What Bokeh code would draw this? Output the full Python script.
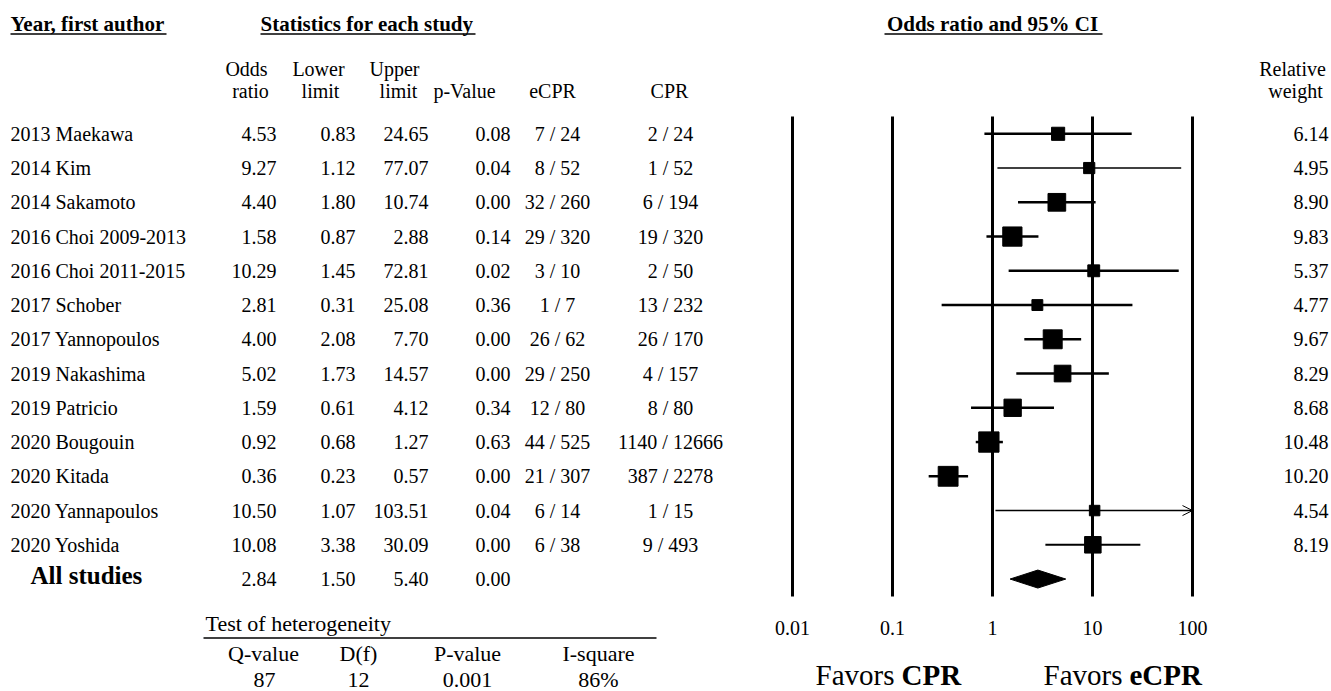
from bokeh.plotting import figure
from bokeh.models import Range1d, LogScale, ColumnDataSource, Arrow, OpenHead
from bokeh.core.properties import value
from bokeh.embed import file_html
from bokeh.resources import INLINE

# ---------------- data ----------------
studies = ["2013 Maekawa", "2014 Kim", "2014 Sakamoto", "2016 Choi 2009-2013",
           "2016 Choi 2011-2015", "2017 Schober", "2017 Yannopoulos", "2019 Nakashima",
           "2019 Patricio", "2020 Bougouin", "2020 Kitada", "2020 Yannapoulos", "2020 Yoshida"]
odds = [4.53, 9.27, 4.40, 1.58, 10.29, 2.81, 4.00, 5.02, 1.59, 0.92, 0.36, 10.50, 10.08]
lower = [0.83, 1.12, 1.80, 0.87, 1.45, 0.31, 2.08, 1.73, 0.61, 0.68, 0.23, 1.07, 3.38]
upper = [24.65, 77.07, 10.74, 2.88, 72.81, 25.08, 7.70, 14.57, 4.12, 1.27, 0.57, 103.51, 30.09]
pvalues = ["0.08", "0.04", "0.00", "0.14", "0.02", "0.36", "0.00", "0.00", "0.34", "0.63",
           "0.00", "0.04", "0.00"]
ecpr = ["7 / 24", "8 / 52", "32 / 260", "29 / 320", "3 / 10", "1 / 7", "26 / 62", "29 / 250",
        "12 / 80", "44 / 525", "21 / 307", "6 / 14", "6 / 38"]
cpr = ["2 / 24", "1 / 52", "6 / 194", "19 / 320", "2 / 50", "13 / 232", "26 / 170", "4 / 157",
       "8 / 80", "1140 / 12666", "387 / 2278", "1 / 15", "9 / 493"]
weights = [6.14, 4.95, 8.90, 9.83, 5.37, 4.77, 9.67, 8.29, 8.68, 10.48, 10.20, 4.54, 8.19]

summary_label = "All studies"
summary_or, summary_lower, summary_upper, summary_p = 2.84, 1.50, 5.40, "0.00"

het_title = "Test of heterogeneity"
het_headers = ["Q-value", "D(f)", "P-value", "I-square"]
het_values = ["87", "12", "0.001", "86%"]

ticks = [0.01, 0.1, 1, 10, 100]
tick_labels = ["0.01", "0.1", "1", "10", "100"]

# ---------------- styles / layout ----------------
FONT = "Liberation Serif"
W, H = 1331, 691
ci_widths = [2.5, 1.5, 2.5, 2.5, 2.5, 2.5, 2.5, 2.5, 2.5, 2.5, 2.5, 1.5, 2.0]

X_ONE = 992.0     # screen x of OR = 1
DECADE = 100.0    # px per decade

p = figure(width=W, height=H, x_range=Range1d(0, W), y_range=Range1d(H, 0),
           output_backend="svg", toolbar_location=None, min_border=0,
           x_axis_type=None, y_axis_type=None)
p.grid.visible = False
p.outline_line_color = None
p.background_fill_color = "white"
p.border_fill_color = "white"

p.extra_x_ranges = {"or": Range1d(10 ** ((0 - X_ONE) / DECADE), 10 ** ((W - X_ONE) / DECADE))}
p.extra_x_scales = {"or": LogScale()}
axis_max = ticks[-1]

n = len(studies)
row_y = [133.3 + 34.25 * i for i in range(n)]
sum_y = 133.3 + 34.25 * n


def txt(x, y, t, size="20px", align="left", bold=False, baseline="middle", rng="default"):
    if not isinstance(x, list):
        x, y, t = [x], [y], [t]
    p.text(x=x, y=y, text=t, text_font=value(FONT), text_font_size=size,
           text_align=align, text_baseline=baseline,
           text_font_style="bold" if bold else "normal", text_color="black",
           x_range_name=rng)


# titles
txt(10, 23, "Year, first author", size="21px", bold=True)
txt(260, 23, "Statistics for each study", size="21px", bold=True)
txt(1.0, 23, "Odds ratio and 95% CI", size="21px", bold=True, align="center", rng="or")
p.segment(x0=[10, 260, 884], x1=[166, 475, 1102], y0=[33.5] * 3, y1=[33.5] * 3,
          line_color="black", line_width=1.5)

# column headers
txt([246, 318, 394], [68, 68, 68], ["Odds", "Lower", "Upper"], align="center")
txt([250, 320, 398, 464, 552, 669], [90] * 6,
    ["ratio", "limit", "limit", "p-Value", "eCPR", "CPR"], align="center")
txt([1292, 1295], [68, 90], ["Relative", "weight"], align="center")

# table rows
fmt = lambda v: "%.2f" % v
txt([10] * n, row_y, studies)
txt([276] * n, row_y, [fmt(v) for v in odds], align="right")
txt([355] * n, row_y, [fmt(v) for v in lower], align="right")
txt([428] * n, row_y, [fmt(v) for v in upper], align="right")
txt([510] * n, row_y, pvalues, align="right")
txt([557] * n, row_y, ecpr, align="center")
txt([670] * n, row_y, cpr, align="center")
txt([1328] * n, row_y, [fmt(v) for v in weights], align="right")

# summary row
txt(30, sum_y - 4, summary_label, size="25px", bold=True)
txt([276, 355, 428, 510], [sum_y] * 4,
    [fmt(summary_or), fmt(summary_lower), fmt(summary_upper), summary_p], align="right")

# heterogeneity
txt(205, 623, het_title, size="22px")
p.segment(x0=[203], x1=[656], y0=[637.5], y1=[637.5], line_color="black", line_width=1.5)
txt([263, 358, 467, 598], [653] * 4, het_headers, size="22px", align="center")
txt([264, 358, 467, 598], [679] * 4, het_values, size="22px", align="center")

# ---------------- forest plot ----------------
p.segment(x0=ticks, x1=ticks, y0=[116] * len(ticks), y1=[596] * len(ticks),
          line_color="black", line_width=3, x_range_name="or")
txt(ticks, [627] * len(ticks), tick_labels, align="center", rng="or")

inside = [i for i in range(n) if upper[i] <= axis_max]
outside = [i for i in range(n) if upper[i] > axis_max]
ci_src = ColumnDataSource(dict(
    x0=[lower[i] for i in inside], x1=[upper[i] for i in inside],
    y=[row_y[i] for i in inside], w=[ci_widths[i] for i in inside]))
p.segment(x0="x0", x1="x1", y0="y", y1="y", line_width="w", line_color="black",
          source=ci_src, x_range_name="or")
for i in outside:
    p.add_layout(Arrow(end=OpenHead(size=10, line_width=1, line_color="black"),
                       x_start=lower[i], x_end=axis_max, y_start=row_y[i], y_end=row_y[i],
                       line_width=ci_widths[i], line_color="black", x_range_name="or"))

sq_src = ColumnDataSource(dict(x=odds, y=row_y, s=[3 + 1.65 * w for w in weights]))
p.scatter(x="x", y="y", size="s", marker="square", fill_color="black", line_color="black",
          source=sq_src, x_range_name="or")

# summary diamond
dh = 9
p.patch(x=[summary_lower, summary_or, summary_upper, summary_or],
        y=[sum_y, sum_y - dh, sum_y, sum_y + dh],
        fill_color="black", line_color="black", x_range_name="or")

# favors labels
txt(815, 674, "Favors ", size="29px")
txt(901, 674, "CPR", size="29px", bold=True)
txt(1043, 674, "Favors ", size="29px")
txt(1129, 674, "eCPR", size="29px", bold=True)

open("out.html", "w").write(file_html(p, INLINE))
